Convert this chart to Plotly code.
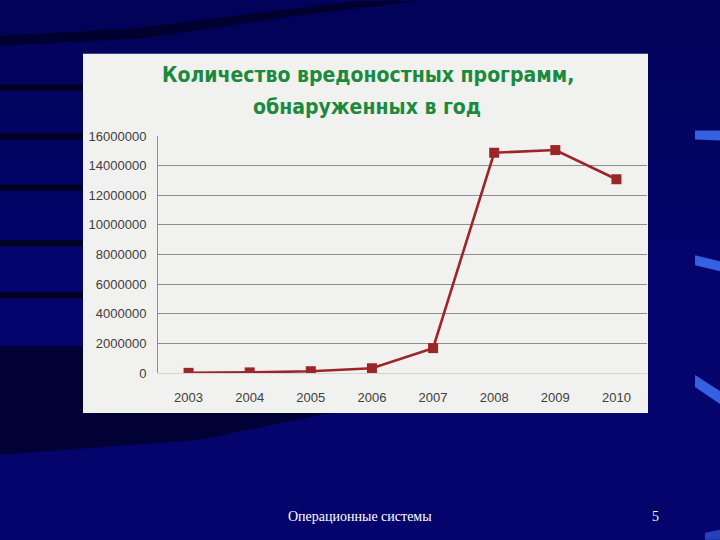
import plotly.graph_objects as go

years = ["2003", "2004", "2005", "2006", "2007", "2008", "2009", "2010"]
malware_count = [10000, 40000, 120000, 320000, 1680000, 14870000, 15050000, 13080000]
y_ticks = [0, 2000000, 4000000, 6000000, 8000000, 10000000, 12000000, 14000000, 16000000]
y_tick_labels = [str(v) for v in y_ticks]
title_lines = ["Количество вредоностных программ,", "обнаруженных в год"]
footer_text = "Операционные системы"
page_number = "5"

# plot area in pixels
L, R, T, B = 158, 647, 135.5, 373
W, H = R - L, B - T


def px(x):
    return (x - L) / W


def py(y):
    return (B - y) / H


def rect(x0, y0, x1, y1, color, opacity=1.0):
    return dict(type="rect", xref="paper", yref="paper", x0=px(x0), x1=px(x1),
                y0=py(y1), y1=py(y0), fillcolor=color, line_width=0,
                layer="below", opacity=opacity)


def poly(points, color, opacity=1.0):
    d = "M " + " L ".join(f"{px(x):.4f},{py(y):.4f}" for x, y in points) + " Z"
    return dict(type="path", xref="paper", yref="paper", path=d, fillcolor=color,
                line_width=0, layer="below", opacity=opacity)


shapes = []
# background decorations (soft vertical gradient: darker at top)
for i, y0 in enumerate(range(0, 240, 40)):
    shapes.append(rect(0, y0, 720, y0 + 40, "#000030", 0.30 - i * 0.05))
shapes.append(poly([(0, 35), (130, 28), (260, 12), (360, 0), (420, 0), (290, 16), (140, 38), (0, 45)], "#000020", 0.75))
for y0 in [84, 133, 184, 240, 292]:
    shapes.append(rect(0, y0, 90, y0 + 6, "#000015", 0.85))
shapes.append(poly([(0, 346), (90, 346), (90, 413), (330, 413), (200, 440), (0, 455)], "#000018", 0.65))
shapes.append(poly([(695, 130), (720, 130), (720, 140), (695, 139)], "#3a6af0", 0.9))
shapes.append(poly([(695, 255), (720, 261), (720, 271), (695, 265)], "#3a6af0", 0.9))
shapes.append(poly([(695, 375), (720, 391), (720, 404), (695, 387)], "#3a6af0", 0.9))
shapes.append(poly([(705, 533), (720, 530), (720, 540), (705, 540)], "#3a6af0", 0.6))
# chart box
shapes.append(rect(83, 53, 648, 413, "#f1f1ef"))

fig = go.Figure()
fig.add_trace(go.Scatter(
    x=years, y=malware_count, mode="lines+markers",
    line=dict(color="#9c2528", width=2.6),
    marker=dict(symbol="square", size=10, color="#9c2528"),
    showlegend=False, hoverinfo="skip",
))

title_font = dict(family="DejaVu Sans Condensed, Liberation Sans Narrow, Arial Narrow", size=21, color="#1b8a3c")
annotations = [
    dict(text="<b>" + title_lines[0] + "</b>", x=px(368), y=py(74), xref="paper", yref="paper",
         showarrow=False, xanchor="center", yanchor="middle", font=title_font),
    dict(text="<b>" + title_lines[1] + "</b>", x=px(367), y=py(106), xref="paper", yref="paper",
         showarrow=False, xanchor="center", yanchor="middle", font=title_font),
    dict(text=footer_text, x=px(360), y=py(517), xref="paper", yref="paper",
         showarrow=False, xanchor="center", yanchor="middle",
         font=dict(family="Liberation Serif, Times New Roman, serif", size=14, color="#ffffff")),
    dict(text=page_number, x=px(655), y=py(517), xref="paper", yref="paper",
         showarrow=False, xanchor="center", yanchor="middle",
         font=dict(family="Liberation Serif, Times New Roman, serif", size=14, color="#ffffff")),
]

fig.update_layout(
    width=720, height=540,
    margin=dict(l=L, r=720 - R, t=T, b=540 - B, pad=0),
    paper_bgcolor="#04046c",
    plot_bgcolor="rgba(0,0,0,0)",
    shapes=shapes,
    annotations=annotations,
    xaxis=dict(
        type="category", range=[-0.5, 7.5], showgrid=False, zeroline=False,
        showline=False, ticks="", ticklabelstandoff=15,
        tickfont=dict(family="Liberation Sans, Arial", size=13, color="#404040"),
        fixedrange=True,
    ),
    yaxis=dict(
        range=[0, 16000000], tickvals=y_ticks, ticktext=y_tick_labels,
        showgrid=True, gridcolor="#8e8e8e", gridwidth=1,
        zeroline=True, zerolinecolor="#d4d4d4", zerolinewidth=1,
        showline=True, linecolor="#8e8e8e", linewidth=1,
        ticks="", ticklabelstandoff=8,
        tickfont=dict(family="Liberation Sans, Arial", size=13, color="#404040"),
        fixedrange=True,
    ),
)

fig.write_html("out.html", config={"displayModeBar": False},
               post_script="document.body.style.margin='0';")
